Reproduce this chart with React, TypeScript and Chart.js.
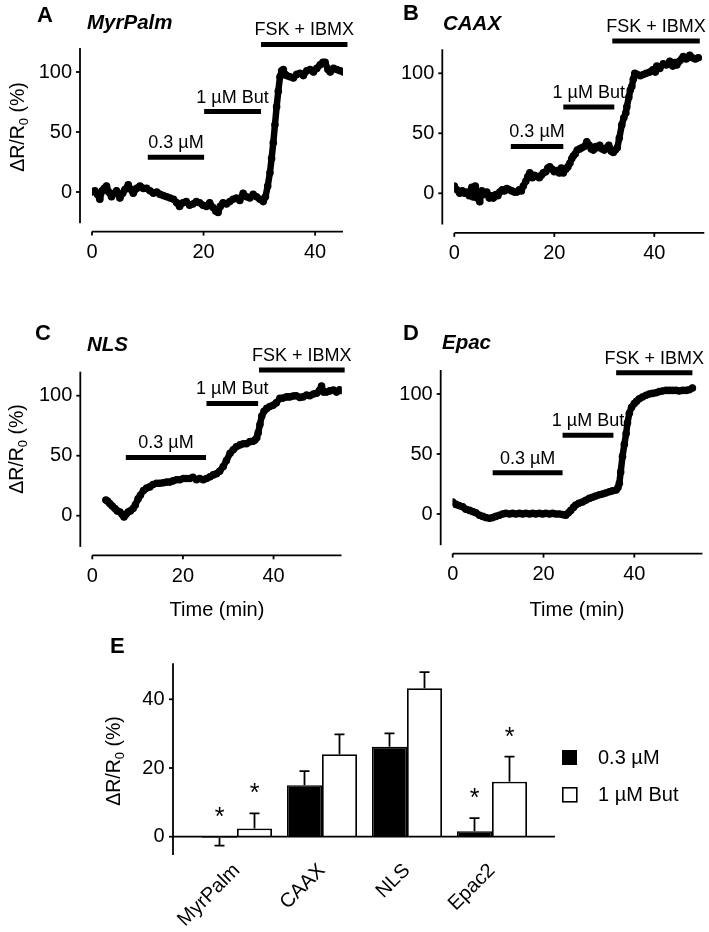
import React, { useEffect, useRef } from "react";
import { Chart, registerables } from "chart.js";

Chart.register(...registerables);

const FONT = "'Liberation Sans', Arial, Helvetica, sans-serif";

// ---------------- Panel A : MyrPalm ----------------
const A_time = [0,0.5,1,1.4,1.8,2.2,2.6,3,3.5,4,4.4,5,5.5,5.9,6.5,7,7.4,8,8.6,9.2,9.8,10.4,11,11.6,12.2,12.8,13.4,14,14.6,15.2,15.7,16.3,16.9,17.5,18.1,18.7,19.3,19.9,20.5,21.1,21.7,22.2,22.6,23,23.5,24.1,24.7,25.3,25.9,26.5,27.1,27.7,28.3,28.9,29.5,30.1,30.7,31.1,31.5,31.9,32.2,32.5,32.8,33.1,33.4,33.7,34,34.3,34.6,34.9,35.5,36.1,36.7,37.3,37.9,38.5,39.1,39.7,40.3,40.9,41.4,41.8,42.3,42.7,43.3,43.9,44.5,45.1];
const A_value = [0,1,-2,-6,1,3,5,0,-4,-1,1,-5,-1,2,6,2,-1,3,5,3,3,1,-1,0,-2,-3,-4,-5,-6,-9,-12,-9,-8,-11,-10,-8,-9,-11,-12,-9,-13,-16,-17,-12,-9,-10,-8,-6,-5,-7,-1,-4,-5,-2,-4,-6,-8,-4,5,16,28,41,56,71,84,96,101,102,98,97,96,95,98,99,97,101,102,100,103,106,108,108,102,100,103,102,101,100];
const A_treatLabels = ["0.3 µM", "1 µM But", "FSK + IBMX"];
const A_treatStart = [10, 20.1, 30.3];
const A_treatEnd = [20.1, 30.3, 45.8];
const A_treatLevel = [29, 67, 123];

// ---------------- Panel B : CAAX ----------------
const B_time = [0,0.5,1.1,1.6,2.1,2.5,3,3.5,3.8,4.2,4.6,5.1,5.5,6,6.5,7,7.4,7.8,8.3,8.7,9.1,9.6,10,10.5,11,11.5,12,12.5,13,13.4,13.8,14.3,14.7,15.1,15.6,16,16.5,17,17.4,17.8,18.3,18.7,19.1,19.6,20,20.5,21,21.4,21.8,22.3,22.7,23.1,23.5,23.8,24.2,24.6,25.1,25.5,26,26.5,27,27.4,27.8,28.3,28.7,29.1,29.6,30,30.5,30.9,31.4,31.8,32.2,32.6,33,33.5,33.9,34.3,34.5,34.9,35.2,35.5,35.8,36.1,36.6,37.2,37.8,38.4,39.1,39.7,40.2,40.5,41.1,41.8,42.4,43.1,43.7,44.1,44.5,45,45.5,45.8,46.4,47.1,47.6,48.2,48.8];
const B_value = [6,3,0,2,0,1,-2,5,-3,6,-4,-7,2,-1,1,-4,-2,-4,-1,-2,1,3,2,4,3,2,1,1,3,2,6,10,14,17,13,15,14,13,15,17,18,21,22,20,18,19,17,21,17,20,22,25,29,31,33,36,37,38,39,43,40,37,36,39,38,40,37,36,38,40,35,34,36,38,46,57,63,67,72,80,86,89,95,100,99,98,99,100,101,103,101,106,104,108,107,110,106,109,107,110,112,114,112,115,113,112,113];
const B_treatLabels = ["0.3 µM", "1 µM But", "FSK + IBMX"];
const B_treatStart = [11.3, 21.8, 31.6];
const B_treatEnd = [21.8, 32, 49.1];
const B_treatLevel = [39, 72, 127];

// ---------------- Panel C : NLS ----------------
const C_time = [3,3.4,3.9,4.4,5,5.5,6.1,6.6,7,7.4,7.9,8.4,9,9.5,10.1,10.6,11.3,12,12.7,13.4,14.2,14.9,15.7,16.4,17.1,17.8,18.6,19.3,20.1,20.8,21.5,22.2,23,23.7,24.5,25.2,26,26.7,27.4,28.1,28.9,29.6,30.4,31.1,31.8,32.6,33.3,34,34.8,35.5,35.9,36.3,36.6,37,37.4,37.9,38.5,39.2,39.9,40.6,41.4,42.1,42.9,43.6,44.3,45,45.8,46.5,47.3,48,48.8,49.5,50.2,50.6,51,51.7,52.4,53.2,53.9,54.6,55.3];
const C_value = [13,12,10,8,6,4,3,1,-1,1,3,4,6,9,14,17,21,23,24,26,27,27,27.5,28,28,29,30,30,31,31,31,32,30,31,30,31,32.5,34,35,37,41,46,52,55,57.5,59,60,60,61.7,62,63,65,69,76,83,87,89.4,91,92,94,97.8,98,99,99,99.7,100,98.6,99,100.5,100,101.4,102,104.7,108,103,103,104,104.7,103,105,104];
const C_treatLabels = ["0.3 µM", "1 µM But", "FSK + IBMX"];
const C_treatStart = [7.4, 25.2, 36.8];
const C_treatEnd = [25.1, 36.6, 55.7];
const C_treatLevel = [48.6, 93.6, 121.4];

// ---------------- Panel D : Epac ----------------
const D_time = [0,0.7,1.4,2.2,2.9,3.7,4.4,5.1,5.9,6.6,7.3,8.1,8.8,9.5,10.3,11,11.7,12.5,13.2,13.9,14.7,15.4,16.1,16.9,17.6,18.3,19.1,19.8,20.5,21.3,22,22.7,23.5,24.2,24.9,25.5,26,26.6,27.1,27.8,28.6,29.3,30.1,30.8,31.5,32.3,33,33.7,34.5,35.2,36,36.4,36.7,37,37.4,37.8,38.2,38.5,38.9,39.4,40,40.5,41.1,41.8,42.6,43.3,44,44.8,45.5,46.2,47,47.7,48.4,49.2,49.9,50.6,51.4,52.1,52.8];
const D_value = [10,8,7,6,4,3,2,1,-1,-2,-3,-3.6,-3,-2,-1,0,0.5,0,0.5,0,0.5,0,0.5,0,0.5,0,0.5,0,0.5,0,0.5,0,0,-0.5,-1,1,3,5.5,7.5,9,10,11.5,13,14,15,16,16.7,17.5,18.6,19.3,20,22,25.5,35,48,58,67,76,84,89,92,94,96,97.5,99,100,100.5,101,102,102.5,103,103,103,103,102.5,103,103,103.5,105];
const D_treatLabels = ["0.3 µM", "1 µM But", "FSK + IBMX"];
const D_treatStart = [8.8, 24.2, 36];
const D_treatEnd = [24.2, 35.4, 52.8];
const D_treatLevel = [34.4, 65.6, 117.8];

const TRACE_X_TICKS = [0, 20, 40];
const TRACE_Y_TICKS = [0, 50, 100];

// ---------------- Panel E : summary bars ----------------
const E_categories = ["MyrPalm", "CAAX", "NLS", "Epac2"];
const E_seriesNames = ["0.3 µM", "1 µM But"];
const E_low = [-0.3, 15, 26.2, 1.6];
const E_lowErr = [2.3, 4.1, 3.9, 3.8];
const E_high = [2.4, 24, 43.2, 16];
const E_highErr = [4.4, 5.8, 4.7, 7.3];
const E_lowSig = [true, false, false, true];
const E_highSig = [true, false, false, true];
const E_Y_TICKS = [0, 20, 40];

// ---------------------------------------------------
const Y_MIN = -33;
const Y_MAX = 150;
const PX_PER_UNIT = 1.2;
const TICK_SIZE = 20;

function drawYTitle(ctx: CanvasRenderingContext2D, cx: number, cy: number) {
  ctx.save();
  ctx.translate(cx, cy);
  ctx.rotate(-Math.PI / 2);
  const main = `19.5px ${FONT}`;
  const sub = `13px ${FONT}`;
  ctx.font = main;
  const w1 = ctx.measureText("ΔR/R").width;
  const w3 = ctx.measureText(" (%)").width;
  ctx.font = sub;
  const w2 = ctx.measureText("0").width;
  let x = -(w1 + w2 + w3) / 2;
  ctx.textAlign = "left";
  ctx.textBaseline = "alphabetic";
  ctx.fillStyle = "#000";
  const base = 7;
  ctx.font = main;
  ctx.fillText("ΔR/R", x, base);
  x += w1;
  ctx.font = sub;
  ctx.fillText("0", x, base + 4);
  x += w2;
  ctx.font = main;
  ctx.fillText(" (%)", x, base);
  ctx.restore();
}

type LinePanelProps = {
  box: { left: number; top: number; width: number; height: number };
  area: { left: number; right: number; zeroY: number };
  xMax: number;
  letter: string;
  letterPos: [number, number];
  name: string;
  namePos: [number, number];
  yTitle?: [number, number];
  timeTitle?: [number, number];
  time: number[];
  value: number[];
  treatLabels: string[];
  treatStart: number[];
  treatEnd: number[];
  treatLevel: number[];
};

function TracePanel(p: LinePanelProps) {
  const ref = useRef<HTMLCanvasElement | null>(null);
  useEffect(() => {
    if (!ref.current) return;
    const top = p.area.zeroY - Y_MAX * PX_PER_UNIT;
    const bottom = p.area.zeroY - Y_MIN * PX_PER_UNIT;
    const n = Math.min(p.time.length, p.value.length);
    const trace = [];
    for (let i = 0; i < n; i++) trace.push({ x: p.time[i], y: p.value[i] });

    const decor = {
      id: "decor",
      afterDraw(chart: any) {
        const ctx = chart.ctx as CanvasRenderingContext2D;
        const xs = chart.scales.x;
        const ys = chart.scales.y;
        const ca = chart.chartArea;
        ctx.save();
        ctx.strokeStyle = "#000";
        ctx.fillStyle = "#000";
        ctx.lineWidth = 1.8;
        const axX = ca.left - 12;
        ctx.beginPath();
        ctx.moveTo(axX, ys.getPixelForValue(120));
        ctx.lineTo(axX, ys.getPixelForValue(-26));
        ctx.stroke();
        TRACE_Y_TICKS.forEach((v) => {
          const y = ys.getPixelForValue(v);
          ctx.beginPath();
          ctx.moveTo(axX - 4, y);
          ctx.lineTo(axX, y);
          ctx.stroke();
        });
        const axY = ca.bottom;
        ctx.beginPath();
        ctx.moveTo(xs.getPixelForValue(0), axY);
        ctx.lineTo(xs.getPixelForValue(p.xMax), axY);
        ctx.stroke();
        TRACE_X_TICKS.forEach((v) => {
          const x = xs.getPixelForValue(v);
          ctx.beginPath();
          ctx.moveTo(x, axY);
          ctx.lineTo(x, axY + 4);
          ctx.stroke();
        });
        ctx.font = `18px ${FONT}`;
        ctx.textAlign = "center";
        ctx.textBaseline = "middle";
        p.treatLabels.forEach((lab, i) => {
          const x = (xs.getPixelForValue(p.treatStart[i]) + xs.getPixelForValue(p.treatEnd[i])) / 2;
          const y = ys.getPixelForValue(p.treatLevel[i]) - 14;
          ctx.fillText(lab, x, y);
        });
        ctx.textAlign = "left";
        ctx.textBaseline = "alphabetic";
        ctx.font = `bold 22px ${FONT}`;
        ctx.fillText(p.letter, p.letterPos[0], p.letterPos[1]);
        ctx.font = `italic bold 20.5px ${FONT}`;
        ctx.fillText(p.name, p.namePos[0], p.namePos[1]);
        if (p.timeTitle) {
          ctx.font = `20px ${FONT}`;
          ctx.textAlign = "center";
          ctx.textBaseline = "middle";
          ctx.fillText("Time (min)", p.timeTitle[0], p.timeTitle[1]);
        }
        ctx.restore();
        if (p.yTitle) drawYTitle(ctx, p.yTitle[0], p.yTitle[1]);
      },
    };

    const datasets: any[] = [
      {
        data: trace,
        showLine: true,
        borderColor: "#000",
        backgroundColor: "#000",
        borderWidth: 6.5,
        pointRadius: 3.8,
        pointBorderWidth: 0,
        borderJoinStyle: "round",
        borderCapStyle: "round",
        tension: 0,
      },
    ];
    p.treatLabels.forEach((lab, i) => {
      datasets.push({
        label: lab,
        data: [
          { x: p.treatStart[i], y: p.treatLevel[i] },
          { x: p.treatEnd[i], y: p.treatLevel[i] },
        ],
        showLine: true,
        borderColor: "#000",
        backgroundColor: "#000",
        borderWidth: 5,
        pointRadius: 0,
        borderCapStyle: "butt",
        clip: false,
      });
    });

    const zeroPad = (s: any) => {
      s.paddingTop = 0;
      s.paddingBottom = 0;
      s.paddingLeft = 0;
      s.paddingRight = 0;
    };

    const chart = new Chart(ref.current, {
      type: "scatter",
      data: { datasets },
      options: {
        responsive: false,
        animation: false,
        events: [],
        layout: { padding: { left: 0, top, right: p.box.width - p.area.right, bottom: 0 } },
        plugins: { legend: { display: false }, tooltip: { enabled: false } },
        scales: {
          x: {
            type: "linear",
            min: 0,
            max: p.xMax,
            grid: { display: false, drawTicks: false },
            border: { display: false },
            afterBuildTicks: (s: any) => {
              s.ticks = TRACE_X_TICKS.map((v) => ({ value: v }));
            },
            ticks: { color: "#000", font: { family: FONT, size: TICK_SIZE }, padding: 9, maxRotation: 0, autoSkip: false },
            afterFit: (s: any) => {
              s.height = p.box.height - bottom;
              zeroPad(s);
            },
          },
          y: {
            type: "linear",
            min: Y_MIN,
            max: Y_MAX,
            grid: { display: false, drawTicks: false },
            border: { display: false },
            afterBuildTicks: (s: any) => {
              s.ticks = TRACE_Y_TICKS.map((v) => ({ value: v }));
            },
            ticks: { color: "#000", font: { family: FONT, size: TICK_SIZE }, padding: 20, autoSkip: false },
            afterFit: (s: any) => {
              s.width = p.area.left;
              zeroPad(s);
            },
          },
        },
      } as any,
      plugins: [decor],
    });
    return () => chart.destroy();
  }, []);
  return (
    <canvas
      ref={ref}
      width={p.box.width}
      height={p.box.height}
      style={{ position: "absolute", left: p.box.left, top: p.box.top, width: p.box.width, height: p.box.height }}
    />
  );
}

function BarPanel() {
  const ref = useRef<HTMLCanvasElement | null>(null);
  const box = { left: 0, top: 625, width: 709, height: 307 };
  const area = { left: 194.5, right: 534.5, zeroY: 211.7 };
  const E_MIN = -5;
  const E_MAX = 50;
  const unit = 3.435;
  useEffect(() => {
    if (!ref.current) return;
    const top = area.zeroY - E_MAX * unit;
    const bottom = area.zeroY - E_MIN * unit;
    const errs = [E_lowErr, E_highErr];
    const vals = [E_low, E_high];
    const sigs = [E_lowSig, E_highSig];

    const decor = {
      id: "barDecor",
      afterDatasetsDraw(chart: any) {
        const ctx = chart.ctx as CanvasRenderingContext2D;
        const ys = chart.scales.y;
        ctx.save();
        ctx.strokeStyle = "#000";
        ctx.fillStyle = "#000";
        ctx.lineWidth = 1.8;
        for (let d = 0; d < 2; d++) {
          const meta = chart.getDatasetMeta(d);
          meta.data.forEach((el: any, j: number) => {
            const v = vals[d][j];
            const e = errs[d][j];
            const end = v >= 0 ? v + e : v - e;
            const x = el.x;
            const y0 = ys.getPixelForValue(v);
            const y1 = ys.getPixelForValue(end);
            ctx.beginPath();
            ctx.moveTo(x, y0);
            ctx.lineTo(x, y1);
            ctx.moveTo(x - 5, y1);
            ctx.lineTo(x + 5, y1);
            ctx.stroke();
            if (sigs[d][j]) {
              const anchor = v >= 0 ? v + e : 0;
              const cy = ys.getPixelForValue(anchor + 7.6);
              ctx.font = `25px ${FONT}`;
              ctx.textAlign = "center";
              ctx.textBaseline = "alphabetic";
              ctx.fillText("*", x, cy + 14);
            }
          });
        }
        ctx.restore();
      },
      afterDraw(chart: any) {
        const ctx = chart.ctx as CanvasRenderingContext2D;
        const ys = chart.scales.y;
        const ca = chart.chartArea;
        ctx.save();
        ctx.strokeStyle = "#000";
        ctx.fillStyle = "#000";
        ctx.lineWidth = 1.8;
        const axX = ca.left - 21.5;
        ctx.beginPath();
        ctx.moveTo(axX, ys.getPixelForValue(50.5));
        ctx.lineTo(axX, ys.getPixelForValue(-5.3));
        ctx.stroke();
        E_Y_TICKS.forEach((v) => {
          const y = ys.getPixelForValue(v);
          ctx.beginPath();
          ctx.moveTo(axX - 4, y);
          ctx.lineTo(axX, y);
          ctx.stroke();
        });
        const y0 = ys.getPixelForValue(0);
        ctx.beginPath();
        ctx.moveTo(axX, y0);
        ctx.lineTo(ca.right + 20.5, y0);
        ctx.stroke();
        ctx.fillRect(562, 125, 15, 15);
        ctx.lineWidth = 1.6;
        ctx.strokeRect(562.8, 162.8, 14, 14);
        ctx.font = `20px ${FONT}`;
        ctx.textAlign = "left";
        ctx.textBaseline = "middle";
        ctx.fillText(E_seriesNames[0], 598, 133);
        ctx.fillText(E_seriesNames[1], 598, 170);
        ctx.font = `bold 22px ${FONT}`;
        ctx.textBaseline = "alphabetic";
        ctx.fillText("E", 110, 28);
        ctx.restore();
        drawYTitle(ctx, 113, 136);
      },
    };

    const zeroPad = (s: any) => {
      s.paddingTop = 0;
      s.paddingBottom = 0;
      s.paddingLeft = 0;
      s.paddingRight = 0;
    };

    const chart = new Chart(ref.current, {
      type: "bar",
      data: {
        labels: E_categories,
        datasets: [
          { label: E_seriesNames[0], data: E_low, backgroundColor: "#000", borderColor: "#000", borderWidth: 1.5 },
          { label: E_seriesNames[1], data: E_high, backgroundColor: "#fff", borderColor: "#000", borderWidth: 1.8 },
        ],
      },
      options: {
        responsive: false,
        animation: false,
        events: [],
        datasets: { bar: { categoryPercentage: 70 / 85, barPercentage: 1 } },
        layout: { padding: { left: 0, top, right: box.width - area.right, bottom: 0 } },
        plugins: { legend: { display: false }, tooltip: { enabled: false } },
        scales: {
          x: {
            type: "category",
            grid: { display: false, drawTicks: false },
            border: { display: false },
            ticks: {
              color: "#000",
              font: { family: FONT, size: 20 },
              padding: 5,
              minRotation: 45,
              maxRotation: 45,
              autoSkip: false,
            },
            afterFit: (s: any) => {
              s.height = box.height - bottom;
              zeroPad(s);
            },
          },
          y: {
            type: "linear",
            min: E_MIN,
            max: E_MAX,
            grid: { display: false, drawTicks: false },
            border: { display: false },
            afterBuildTicks: (s: any) => {
              s.ticks = E_Y_TICKS.map((v) => ({ value: v }));
            },
            ticks: { color: "#000", font: { family: FONT, size: TICK_SIZE }, padding: 30, autoSkip: false },
            afterFit: (s: any) => {
              s.width = area.left;
              zeroPad(s);
            },
          },
        },
      } as any,
      plugins: [decor],
    });
    return () => chart.destroy();
  }, []);
  return (
    <canvas
      ref={ref}
      width={box.width}
      height={box.height}
      style={{ position: "absolute", left: box.left, top: box.top, width: box.width, height: box.height }}
    />
  );
}

export default function App() {
  return (
    <div style={{ position: "absolute", left: 0, top: 0, width: 709, height: 932, background: "#fff", overflow: "hidden" }}>
      <TracePanel
        box={{ left: 0, top: 0, width: 354, height: 300 }}
        area={{ left: 92, right: 343, zeroY: 192 }}
        xMax={45}
        letter="A"
        letterPos={[37, 22]}
        name="MyrPalm"
        namePos={[87, 29]}
        yTitle={[17, 127]}
        time={A_time}
        value={A_value}
        treatLabels={A_treatLabels}
        treatStart={A_treatStart}
        treatEnd={A_treatEnd}
        treatLevel={A_treatLevel}
      />
      <TracePanel
        box={{ left: 354, top: 0, width: 355, height: 300 }}
        area={{ left: 100.3, right: 350.3, zeroY: 193.3 }}
        xMax={50}
        letter="B"
        letterPos={[49, 20]}
        name="CAAX"
        namePos={[89, 30]}
        time={B_time}
        value={B_value}
        treatLabels={B_treatLabels}
        treatStart={B_treatStart}
        treatEnd={B_treatEnd}
        treatLevel={B_treatLevel}
      />
      <TracePanel
        box={{ left: 0, top: 300, width: 354, height: 325 }}
        area={{ left: 92.3, right: 341.5, zeroY: 215.7 }}
        xMax={55}
        letter="C"
        letterPos={[35, 40]}
        name="NLS"
        namePos={[87, 51]}
        yTitle={[16, 149]}
        timeTitle={[217, 310]}
        time={C_time}
        value={C_value}
        treatLabels={C_treatLabels}
        treatStart={C_treatStart}
        treatEnd={C_treatEnd}
        treatLevel={C_treatLevel}
      />
      <TracePanel
        box={{ left: 354, top: 300, width: 355, height: 325 }}
        area={{ left: 98.7, right: 348.4, zeroY: 214 }}
        xMax={55}
        letter="D"
        letterPos={[49, 40]}
        name="Epac"
        namePos={[88, 49]}
        timeTitle={[223, 310]}
        time={D_time}
        value={D_value}
        treatLabels={D_treatLabels}
        treatStart={D_treatStart}
        treatEnd={D_treatEnd}
        treatLevel={D_treatLevel}
      />
      <BarPanel />
    </div>
  );
}
